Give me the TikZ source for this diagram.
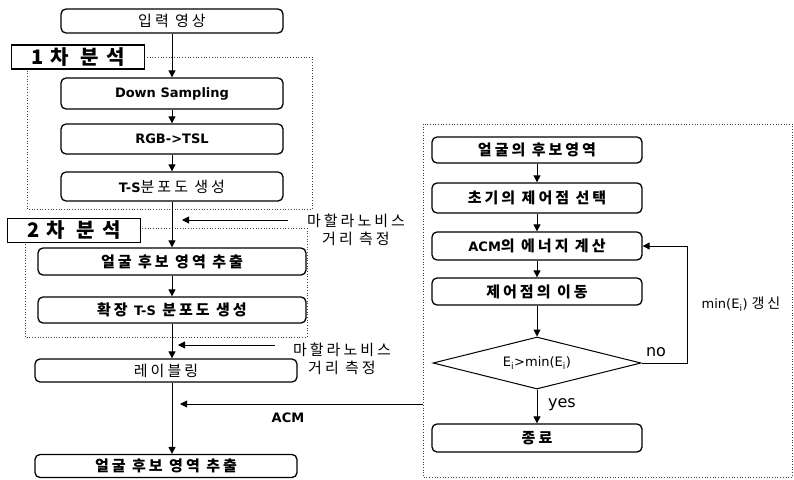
\documentclass[tikz,border=0pt]{standalone}
\usepackage{fontspec}
\usetikzlibrary{arrows.meta,shapes.geometric,calc}
\newfontfamily\kr[LetterSpace=20]{Noto Sans CJK KR}
\newfontfamily\krl[LetterSpace=35]{Noto Sans CJK KR}
\newfontfamily\lat{DejaVu Sans}
\begin{document}
\begin{tikzpicture}[x=1pt,y=-1pt,
  box/.style={draw, line width=1.3pt, rounded corners=5pt, inner sep=0pt, fill=white,
    font=\kr\bfseries\fontsize{15}{17}\selectfont},
  lbl/.style={draw, line width=1.3pt, fill=white, inner sep=0pt,
    minimum width=133pt, minimum height=24pt, font=\krl\bfseries\fontsize{20}{22}\selectfont},
  dotbox/.style={draw=black!75, dotted, line width=0.7pt},
  arr/.style={-{Triangle[length=7pt,width=7pt]}, line width=1pt},
  note/.style={font=\kr\fontsize{15}{18}\selectfont, align=center, inner sep=0pt},
  latb/.style={font=\lat\bfseries\fontsize{13}{15}\selectfont}
]
\useasboundingbox (0,0) rectangle (794,479);

% dotted frames
\draw[dotbox] (27,57) rectangle (312,209);
\draw[dotbox] (25,228) rectangle (307,337);
\draw[dotbox] (423,124) rectangle (792,477);

% left column
\node[box, minimum width=222pt, minimum height=24pt, font=\kr\fontsize{15}{17}\selectfont] (in) at (172,21) {입력 영상};
\node[lbl] (l1) at (78,57) {1차 분석};
\node[box, minimum width=222pt, minimum height=31pt, latb] (ds) at (172,93.5) {Down Sampling};
\node[box, minimum width=222pt, minimum height=30pt, latb] (rgb) at (172,139) {RGB->TSL};
\node[box, minimum width=222pt, minimum height=29pt, font=\kr\fontsize{15}{17}\selectfont] (ts) at (172,186.5) {{\lat\bfseries\fontsize{13}{15}\selectfont T-S}분포도 생성};
\node[lbl] (l2) at (74,230.5) {2차 분석};
\node[box, minimum width=268pt, minimum height=27pt] (face1) at (172,261.5) {얼굴 후보 영역 추출};
\node[box, minimum width=268pt, minimum height=26pt] (ext) at (172,310) {확장 {\lat\bfseries\fontsize{13}{15}\selectfont T-S} 분포도 생성};
\node[box, minimum width=262pt, minimum height=23pt, font=\kr\fontsize{15}{17}\selectfont] (lab) at (166,370.5) {레이블링};
\node[box, minimum width=262pt, minimum height=23pt] (face2) at (166,466) {얼굴 후보 영역 추출};

\draw[arr] (in) -- (ds);
\draw[arr] (ds) -- (rgb);
\draw[arr] (rgb) -- (ts);
\draw[arr] (ts) -- (face1);
\draw[arr] (face1) -- (ext);
\draw[arr] (ext.south) -- (lab.north -| ext.south);
\draw[arr] (lab.south -| ext.south) -- (face2.north -| ext.south);

% side notes
\coordinate (m1s) at (288,220);
\coordinate (m1e) at (182,220);
\draw[arr, line width=0.8pt] (m1s) -- (m1e);
\node[note] (m1) at (356,230) {마할라노비스\\거리 측정};
\coordinate (m2s) at (275,345);
\coordinate (m2e) at (178,345);
\draw[arr, line width=0.8pt] (m2s) -- (m2e);
\node[note] (m2) at (342,359) {마할라노비스\\거리 측정};

% right column
\node[box, minimum width=210pt, minimum height=26pt] (r1) at (537,150) {얼굴의 후보영역};
\node[box, minimum width=210pt, minimum height=30pt] (r2) at (537,198) {초기의 제어점 선택};
\node[box, minimum width=210pt, minimum height=28pt] (r3) at (537,246) {{\lat\bfseries\fontsize{13}{15}\selectfont ACM}의 에너지 계산};
\node[box, minimum width=210pt, minimum height=27pt] (r4) at (537,291.5) {제어점의 이동};
\node[draw, diamond, line width=1pt, aspect=4, inner sep=0pt, minimum width=208pt, minimum height=52pt,
  font=\lat\fontsize{13}{15}\selectfont] (dec) at (537,363) {E\textsubscript{i}>min(E\textsubscript{i})};
\node[box, minimum width=210pt, minimum height=28pt] (end) at (537,438) {종료};

\draw[arr] (r1) -- (r2);
\draw[arr] (r2) -- (r3);
\draw[arr] (r3) -- (r4);
\draw[arr] (r4) -- (dec);
\draw[arr] (dec) -- (end);
\coordinate (loopc) at (687,363);
\draw[arr, line width=0.9pt] (dec.east) -- (loopc) |- (r3.east);
\node[font=\lat\fontsize{16}{18}\selectfont, inner sep=0pt] (no) at (656,352) {no};
\node[font=\lat\fontsize{16}{18}\selectfont, inner sep=0pt] (yes) at (562,405) {yes};
\node[font=\lat\fontsize{13}{15}\selectfont, inner sep=0pt] (upd) at (741,304) {min(E\textsubscript{i}) {\kr\fontsize{14}{16}\selectfont 갱신}};

% ACM link
\coordinate (acms) at (423,404);
\coordinate (acme) at (180,404);
\draw[arr, line width=0.8pt] (acms) -- (acme);
\node[latb, inner sep=0pt] (acm) at (288,418) {ACM};
\end{tikzpicture}
\end{document}
